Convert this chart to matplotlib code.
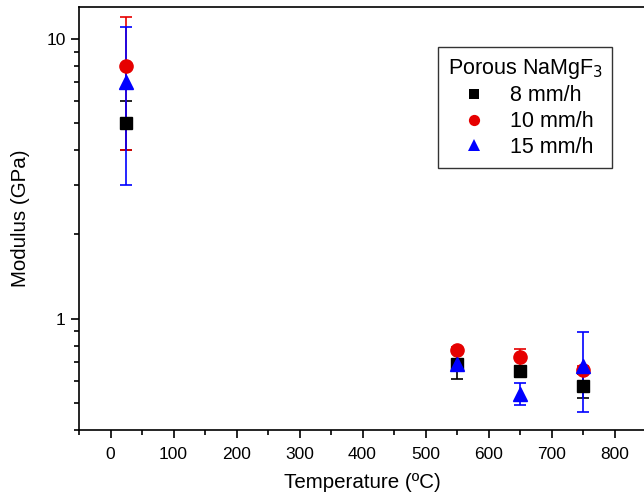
import matplotlib
matplotlib.use('Agg')
import matplotlib.pyplot as plt
from matplotlib.lines import Line2D
from matplotlib.ticker import LogLocator, NullFormatter, FixedLocator, FixedFormatter

plt.rcParams['font.family'] = ['Liberation Sans', 'DejaVu Sans']

# data
temps = [25, 550, 650, 750]
labels = ['8 mm/h', '10 mm/h', '15 mm/h']
mod_8 = [5.0, 0.69, 0.648, 0.576]
err_8 = [1.0, 0.083, 0.03, 0.057]
mod_10 = [8.0, 0.775, 0.727, 0.657]
err_10 = [4.0, 0.02, 0.05, 0.02]
mod_15 = [7.0, 0.69, 0.54, 0.68]
err_15 = [4.0, 0.02, 0.05, 0.217]

series = [
    (mod_8, err_8, 'black', 's', 8.5),
    (mod_10, err_10, '#e60000', 'o', 9.5),
    (mod_15, err_15, '#0000ff', '^', 10),
]

fig = plt.figure(figsize=(6.44, 4.98), dpi=100)
ax = fig.add_axes([79 / 644, 68 / 498, 567 / 644, 423 / 498])

handles = []
for (vals, errs, col, mk, ms), lab in zip(series, labels):
    ax.errorbar(temps, vals, yerr=errs, fmt=mk, color=col, ecolor=col,
                markersize=ms, markeredgecolor=col, elinewidth=1.2,
                capsize=4, capthick=1.2)
    handles.append(Line2D([], [], linestyle='none', marker=mk, color=col,
                          markersize=ms * 0.85, markeredgewidth=0, label=lab))

ax.set_yscale('log')
ax.set_xlim(-50, 850)
ax.set_ylim(0.4, 13)

ax.xaxis.set_major_locator(FixedLocator(range(0, 900, 100)))
ax.xaxis.set_minor_locator(FixedLocator(range(-50, 900, 100)))
ax.yaxis.set_major_locator(FixedLocator([1, 10]))
ax.yaxis.set_major_formatter(FixedFormatter(['1', '10']))
ax.yaxis.set_minor_locator(LogLocator(base=10, subs=range(2, 10)))
ax.yaxis.set_minor_formatter(NullFormatter())

ax.tick_params(which='major', direction='out', length=6, width=1.2,
               labelsize=12.5, top=False, right=False)
ax.tick_params(axis='x', which='major', pad=6)
ax.tick_params(which='minor', direction='out', length=3.5, width=1.2,
               top=False, right=False)
for sp in ax.spines.values():
    sp.set_linewidth(1.2)

ax.set_xlabel('Temperature (ºC)', fontsize=14.8, labelpad=8)
ax.set_ylabel('Modulus (GPa)', fontsize=14.8, labelpad=12)

leg = ax.legend(handles=handles, title='Porous NaMgF$_3$', fontsize=15.5,
                title_fontsize=15.5, loc='upper left',
                bbox_to_anchor=(438 / 644, 1 - 47 / 498),
                bbox_transform=fig.transFigure, borderaxespad=0,
                fancybox=False, edgecolor='#333333', framealpha=1,
                handletextpad=0.9, labelspacing=0.22, borderpad=0.45,
                handlelength=1.6)
leg.get_frame().set_linewidth(1.0)

fig.savefig('out.png', dpi=100)
